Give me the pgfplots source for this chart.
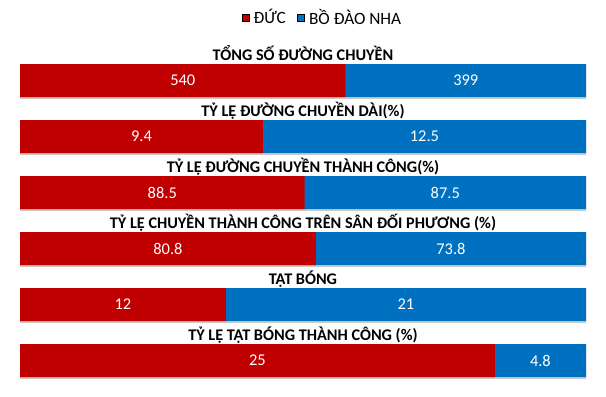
\documentclass[border=0pt]{standalone}
\usepackage{fontspec}
\setmainfont{Carlito}
\usepackage{pgfplots}
\pgfplotsset{compat=1.18}
\usepackage{pgfplotstable}
\definecolor{deC}{HTML}{C00000}
\definecolor{bdnC}{HTML}{0070C0}
\pgfplotstableread{
y de bdn
0 540 399
1 9.4 12.5
2 88.5 87.5
3 80.8 73.8
4 12 21
5 25 4.8
}\data
\begin{document}
\begin{tikzpicture}
\path[use as bounding box] (0,0) rectangle (606bp,397bp);
\begin{axis}[at={(20bp,8.5bp)}, anchor=south west, scale only axis,
  width=566bp, height=364bp, hide axis, xmin=0, xmax=100, ymin=-1, ymax=5.5,
  y dir=reverse, clip=false,
  legend columns=2,
  legend style={at={(axis description cs:0.534,1)}, anchor=center, yshift=7bp, draw=none, fill=none,
    font=\fontsize{17.3}{19}\selectfont, column sep=3bp, /tikz/every even column/.append style={column sep=10bp},
    nodes={inner xsep=1.5bp}},
  legend image code/.code={\fill[#1] (0bp,-3.5bp) rectangle (7bp,3.5bp);},
  every node near coord/.append style={anchor=center, text=white, font=\fontsize{16.5}{18}\selectfont},
]
\addlegendimage{fill=deC}
\addlegendentry{ĐỨC}
\addlegendimage{fill=bdnC}
\addlegendentry{BỒ ĐÀO NHA}
\addplot[forget plot, xbar, bar width=33bp, bar shift=-2bp, fill=black!20, draw=none] table[y=y, x expr=100] {\data};
\addplot[forget plot, xbar, bar width=33bp, bar shift=0pt, fill=bdnC, draw=none] table[y=y, x expr=100] {\data};
\addplot[forget plot, xbar, bar width=33bp, bar shift=0pt, fill=deC, draw=none] table[y=y, x expr={100*\thisrow{de}/(\thisrow{de}+\thisrow{bdn})}] {\data};
\addplot[forget plot, draw=none, mark=none, nodes near coords, point meta=explicit symbolic] table[y=y, x expr={50*\thisrow{de}/(\thisrow{de}+\thisrow{bdn})}, meta=de] {\data};
\addplot[forget plot, draw=none, mark=none, nodes near coords, point meta=explicit symbolic] table[y=y, x expr={50+50*\thisrow{de}/(\thisrow{de}+\thisrow{bdn})}, meta=bdn] {\data};
\begin{scope}[font=\bfseries\fontsize{16.3}{18}\selectfont, every node/.style={anchor=base, inner sep=0pt}]
\node at (axis cs:50,-0.35) {TỔNG SỐ ĐƯỜNG CHUYỀN};
\node at (axis cs:50,0.65) {TỶ LỆ ĐƯỜNG CHUYỀN DÀI(\%)};
\node at (axis cs:50,1.65) {TỶ LỆ ĐƯỜNG CHUYỀN THÀNH CÔNG(\%)};
\node at (axis cs:50,2.65) {TỶ LỆ CHUYỀN THÀNH CÔNG TRÊN SÂN ĐỐI PHƯƠNG (\%)};
\node at (axis cs:50,3.65) {TẠT BÓNG};
\node at (axis cs:50,4.65) {TỶ LỆ TẠT BÓNG THÀNH CÔNG (\%)};
\end{scope}
\end{axis}
\end{tikzpicture}
\end{document}
